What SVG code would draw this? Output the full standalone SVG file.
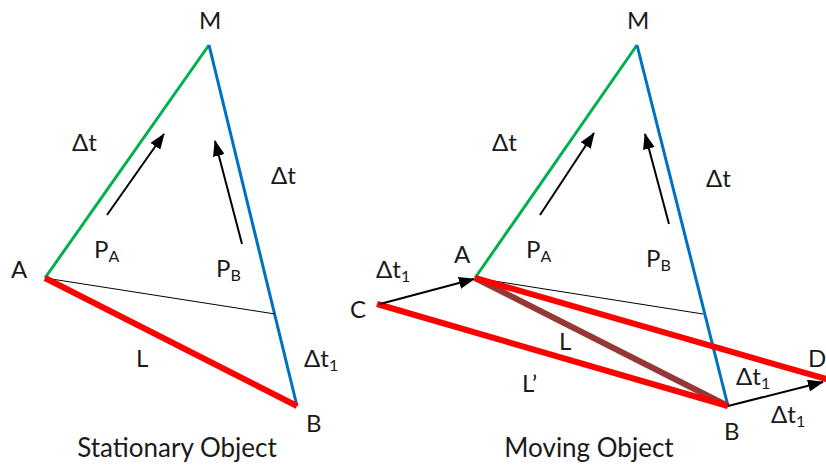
<svg xmlns="http://www.w3.org/2000/svg" width="826" height="466" viewBox="0 0 826 466">
<style>
text{font-family:Lato,"Open Sans","Liberation Sans",sans-serif;font-size:24px;fill:#1a1a1a}
.sub{font-size:16px}
.cap{font-size:26px}
.g{stroke:#00B050;stroke-width:3;fill:none}
.b{stroke:#0070C0;stroke-width:3;fill:none}
.r{stroke:#FF0000;stroke-width:6;fill:none}
.br{stroke:#953735;stroke-width:6;fill:none}
.thin{stroke:#000;stroke-width:1;fill:none}
.ar{stroke:#000;stroke-width:2;fill:none;marker-end:url(#ah)}
</style>
<defs>
<marker id="ah" markerUnits="userSpaceOnUse" markerWidth="16" markerHeight="12" refX="15" refY="6" orient="auto">
<path d="M0,0 L16,6 L0,12 z" fill="#000"/>
</marker>
</defs>
<rect width="826" height="466" fill="#fff"/>
<g id="connectors">
<line class="g" x1="45" y1="278" x2="209" y2="45"/>
<line class="b" x1="209" y1="45" x2="297" y2="406"/>
<line class="thin" x1="45" y1="278" x2="275" y2="314"/>
<line class="r" x1="45" y1="278" x2="297" y2="406"/>
<line class="ar" x1="107" y1="215" x2="164" y2="134"/>
<line class="ar" x1="242" y1="244" x2="215" y2="141"/>
<line class="g" x1="475" y1="278" x2="637" y2="45"/>
<line class="b" x1="637" y1="45" x2="728" y2="406"/>
<line class="thin" x1="475" y1="278" x2="703" y2="314"/>
<line class="br" x1="475" y1="278" x2="728" y2="406"/>
<line class="r" x1="475" y1="278" x2="840" y2="383"/>
<line class="r" x1="377" y1="304" x2="728" y2="406"/>
<line class="ar" x1="380" y1="304" x2="474" y2="279"/>
<line class="ar" x1="728" y1="406" x2="823" y2="382"/>
<line class="ar" x1="540" y1="215" x2="594" y2="133"/>
<line class="ar" x1="669" y1="224" x2="645" y2="134"/>
</g>
<g id="stationary">
<text x="199" y="29">M</text>
<text x="72" y="151">Δt</text>
<text x="271" y="184">Δt</text>
<text x="94" y="258">P<tspan class="sub" dy="4">A</tspan></text>
<text x="216" y="277">P<tspan class="sub" dy="4">B</tspan></text>
<text x="11" y="278">A</text>
<text x="136" y="367">L</text>
<text x="304" y="367">Δt<tspan class="sub" dy="4">1</tspan></text>
<text x="306" y="432">B</text>
<text class="cap" x="177" y="457" text-anchor="middle">Stationary Object</text>
</g>
<g id="moving">
<text x="627" y="29">M</text>
<text x="492" y="151">Δt</text>
<text x="706" y="187">Δt</text>
<text x="526" y="258">P<tspan class="sub" dy="4">A</tspan></text>
<text x="646" y="267">P<tspan class="sub" dy="4">B</tspan></text>
<text x="454" y="263">A</text>
<text x="376" y="278">Δt<tspan class="sub" dy="4">1</tspan></text>
<text x="350" y="318">C</text>
<text x="559" y="350">L</text>
<text x="522" y="392">L’</text>
<text x="736" y="385">Δt<tspan class="sub" dy="4">1</tspan></text>
<text x="771" y="423">Δt<tspan class="sub" dy="4">1</tspan></text>
<text x="724" y="440">B</text>
<text x="808" y="367">D</text>
<text class="cap" x="589" y="457" text-anchor="middle">Moving Object</text>
</g>
</svg>
